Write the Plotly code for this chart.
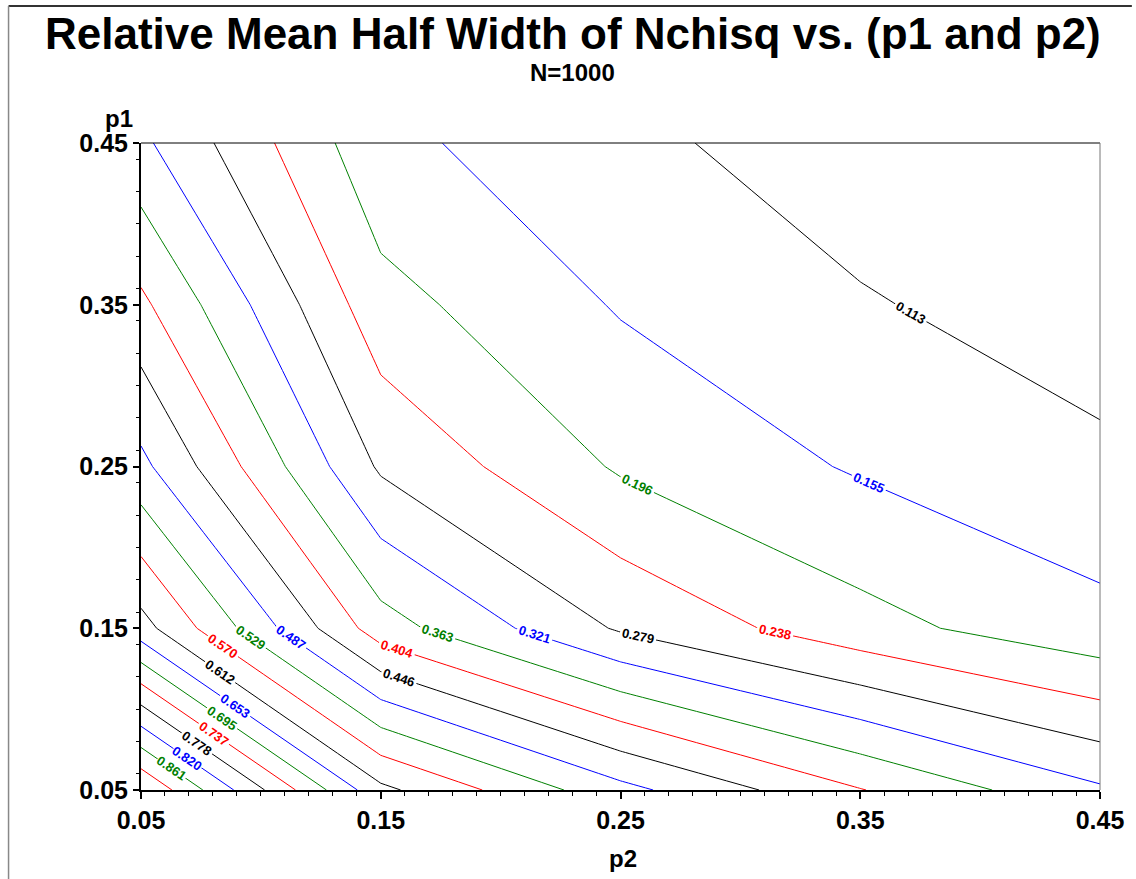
import math
import plotly.graph_objects as go

# ---- data ----
p2_vals = [0.05, 0.15, 0.25, 0.35, 0.45]   # x axis
p1_vals = [0.05, 0.15, 0.25, 0.35, 0.45]   # y axis
# relative mean half width, rows = p1, columns = p2
z_p1_005 = [0.9444, 0.622, 0.500, 0.406, 0.327]
z_p1_015 = [0.628, 0.381, 0.274, 0.211, 0.167]
z_p1_025 = [0.498, 0.273, 0.191, 0.150, 0.123]
z_p1_035 = [0.413, 0.211, 0.151, 0.1175, 0.089]
z_p1_045 = [0.3295, 0.165, 0.125, 0.087, 0.0716]
z_rows = [z_p1_005, z_p1_015, z_p1_025, z_p1_035, z_p1_045]

contour_levels = [0.11318, 0.15474, 0.19630, 0.23786, 0.27942, 0.32098,
                  0.36254, 0.40410, 0.44566, 0.48722, 0.52878, 0.57034,
                  0.61190, 0.65346, 0.69502, 0.73658, 0.77814, 0.81970,
                  0.86126, 0.90282]
level_colors = ["black", "blue", "green", "red"]
# short contours in the corner that still carry a label in the original
extra_label_levels = [0.81970, 0.86126]
tick_vals = [0.05, 0.15, 0.25, 0.35, 0.45]
tick_text = ["0.05", "0.15", "0.25", "0.35", "0.45"]

FONT = "Liberation Sans, Arial, sans-serif"
LABEL_SIZE = 13

fig = go.Figure()
step = contour_levels[1] - contour_levels[0]
for k, col in enumerate(level_colors):
    lv = contour_levels[k::4]
    fig.add_trace(go.Contour(
        x=p2_vals, y=p1_vals, z=z_rows,
        autocontour=False,
        contours=dict(start=lv[0], end=lv[-1] + 1e-6, size=4 * step,
                      coloring="none", showlabels=True, labelformat=".3f",
                      labelfont=dict(family=FONT, size=LABEL_SIZE, color=col, weight="bold")),
        line=dict(color=col, width=1, smoothing=0),
        showscale=False, hoverinfo="skip",
    ))

L, R, T, B = 141, 32, 143, 89
W, H = 1136, 879
pw, ph = W - L - R, H - T - B
xr = p2_vals[-1] - p2_vals[0]
yr = p1_vals[-1] - p1_vals[0]

def px(xp):
    return (xp - L) / pw

def py(yp):
    return (H - B - yp) / ph

annotations = [
    dict(text="Relative Mean Half Width of Nchisq vs. (p1 and p2)", xref="paper", yref="paper",
         x=px(575), y=py(34), xanchor="center", yanchor="middle", showarrow=False,
         font=dict(family=FONT, size=44, weight="bold")),
    dict(text="N=1000", xref="paper", yref="paper",
         x=px(574), y=py(72), xanchor="center", yanchor="middle", showarrow=False,
         font=dict(family=FONT, size=24, weight="bold")),
    dict(text="p1", xref="paper", yref="paper",
         x=px(119), y=py(119), xanchor="center", yanchor="middle", showarrow=False,
         font=dict(family=FONT, size=24, weight="bold")),
    dict(text="p2", xref="paper", yref="paper",
         x=px(625), y=py(858), xanchor="center", yanchor="middle", showarrow=False,
         font=dict(family=FONT, size=24, weight="bold")),
]

# labels for the short corner contours: midpoint of the contour segment in the first cell
z00, z_right, z_up = z_rows[0][0], z_rows[0][1], z_rows[1][0]
for lev in extra_label_levels:
    idx = contour_levels.index(lev)
    col = level_colors[idx % 4]
    p1_left = p1_vals[0] + (p1_vals[1] - p1_vals[0]) * (z00 - lev) / (z00 - z_up)
    p2_bot = p2_vals[0] + (p2_vals[1] - p2_vals[0]) * (z00 - lev) / (z00 - z_right)
    mx = (p2_vals[0] + p2_bot) / 2
    my = (p1_vals[0] + p1_left) / 2
    dx = (p2_bot - p2_vals[0]) / xr * pw
    dy = (p1_left - p1_vals[0]) / yr * ph
    ang = math.degrees(math.atan2(dy, dx))
    annotations.append(dict(text=f"{lev:.3f}", x=mx, y=my, xref="x", yref="y",
                            showarrow=False, textangle=ang, bgcolor="white", borderpad=0,
                            font=dict(family=FONT, size=LABEL_SIZE, color=col, weight="bold")))

fig.update_layout(
    width=W, height=H,
    margin=dict(l=L, r=R, t=T, b=B, pad=0),
    paper_bgcolor="white", plot_bgcolor="white",
    showlegend=False,
    font=dict(family=FONT, color="black"),
    xaxis=dict(range=[0.05, 0.45], tickvals=tick_vals, ticktext=tick_text,
               showgrid=False, zeroline=False, showline=True, linecolor="black",
               linewidth=2, ticks="outside", ticklen=7, tickwidth=1.5, tickcolor="black",
               tickfont=dict(family=FONT, size=25, weight="bold"),
               minor=dict(dtick=0.01, ticks="outside", ticklen=4, tickcolor="black", tickwidth=1),
               fixedrange=True),
    yaxis=dict(range=[0.05, 0.45], tickvals=tick_vals, ticktext=tick_text,
               showgrid=False, zeroline=False, showline=True, linecolor="black",
               linewidth=2, ticks="outside", ticklen=6, tickwidth=1.5, tickcolor="black",
               tickfont=dict(family=FONT, size=25, weight="bold"),
               minor=dict(dtick=0.02, ticks="outside", ticklen=3, tickcolor="black", tickwidth=1),
               fixedrange=True),
    shapes=[
        dict(type="line", xref="paper", yref="paper", x0=0, x1=1, y0=1, y1=1,
             line=dict(color="black", width=1)),
        dict(type="line", xref="paper", yref="paper", x0=1, x1=1, y0=0, y1=1,
             line=dict(color="#777777", width=1)),
        dict(type="line", xref="paper", yref="paper", x0=px(8), x1=px(1136), y0=py(6), y1=py(6),
             line=dict(color="#333333", width=2)),
        dict(type="line", xref="paper", yref="paper", x0=px(8), x1=px(8), y0=py(6), y1=py(879),
             line=dict(color="#888888", width=1.5)),
    ],
    annotations=annotations,
)

post = ("document.body.style.margin='0';"
        "var s=document.createElement('style');"
        "s.innerHTML='.contourlabels text, .annotation-text{font-weight:bold !important;} html,body{overflow:hidden;}';"
        "document.head.appendChild(s);")
fig.write_html("out.html", post_script=post, config={"displayModeBar": False})
